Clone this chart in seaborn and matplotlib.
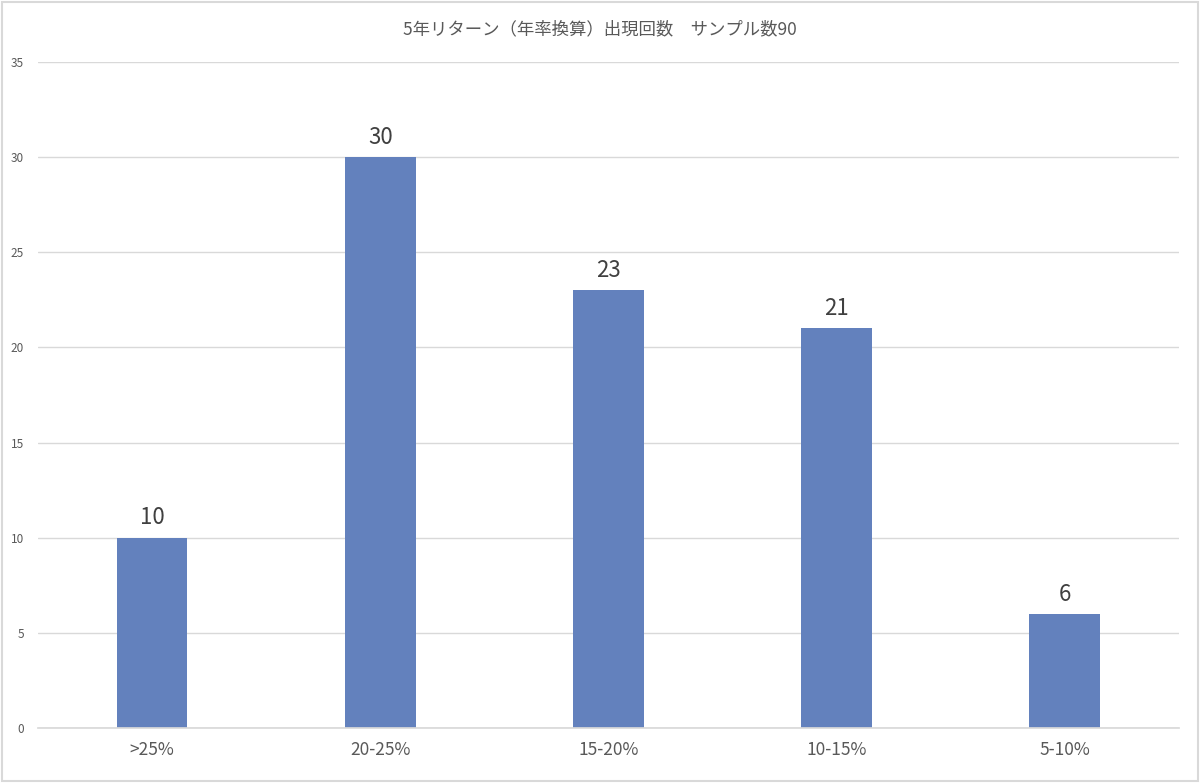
import matplotlib.pyplot as plt
import pandas as pd
import seaborn as sns
from matplotlib.patches import Rectangle

categories = [">25%", "20-25%", "15-20%", "10-15%", "5-10%"]
counts = [10, 30, 23, 21, 6]
title = "5年リターン（年率換算）出現回数\u3000サンプル数90"


def main():
    sns.set_theme(style="white")
    plt.rcParams["font.family"] = ["Noto Sans CJK JP", "DejaVu Sans"]

    df = pd.DataFrame({"category": categories, "count": counts})

    fig = plt.figure(figsize=(12, 7.83), dpi=100)
    ax = fig.add_axes([0.0317, 0.0702, 0.9505, 0.8506])

    sns.barplot(data=df, x="category", y="count", color="#6381bd",
                saturation=1, width=0.31, linewidth=0, ax=ax)

    ax.set_xlim(-0.5, 4.5)
    ax.set_ylim(0, 35)
    ax.set_yticks(range(0, 36, 5))
    ax.yaxis.grid(True, color="#d9d9d9", linewidth=1)
    ax.set_axisbelow(True)
    for s in ["top", "right", "left"]:
        ax.spines[s].set_visible(False)
    ax.spines["bottom"].set_color("#d9d9d9")
    ax.set_xlabel("")
    ax.set_ylabel("")
    ax.tick_params(axis="y", labelsize=8.5, colors="#595959", length=0, pad=10)
    ax.tick_params(axis="x", labelsize=12.5, colors="#595959", length=0, pad=9)

    for container in ax.containers:
        ax.bar_label(container, fontsize=16, color="#404040", padding=6)

    fig.text(0.5, 0.962, title, ha="center", va="center", fontsize=12.5,
             color="#595959")

    fig.patches.append(Rectangle((0.002, 0.003), 0.996, 0.994,
                                 transform=fig.transFigure, fill=False,
                                 edgecolor="#d9d9d9", linewidth=1.5))

    fig.savefig("out.png", dpi=100)
    plt.close(fig)


if __name__ == "__main__":
    main()
